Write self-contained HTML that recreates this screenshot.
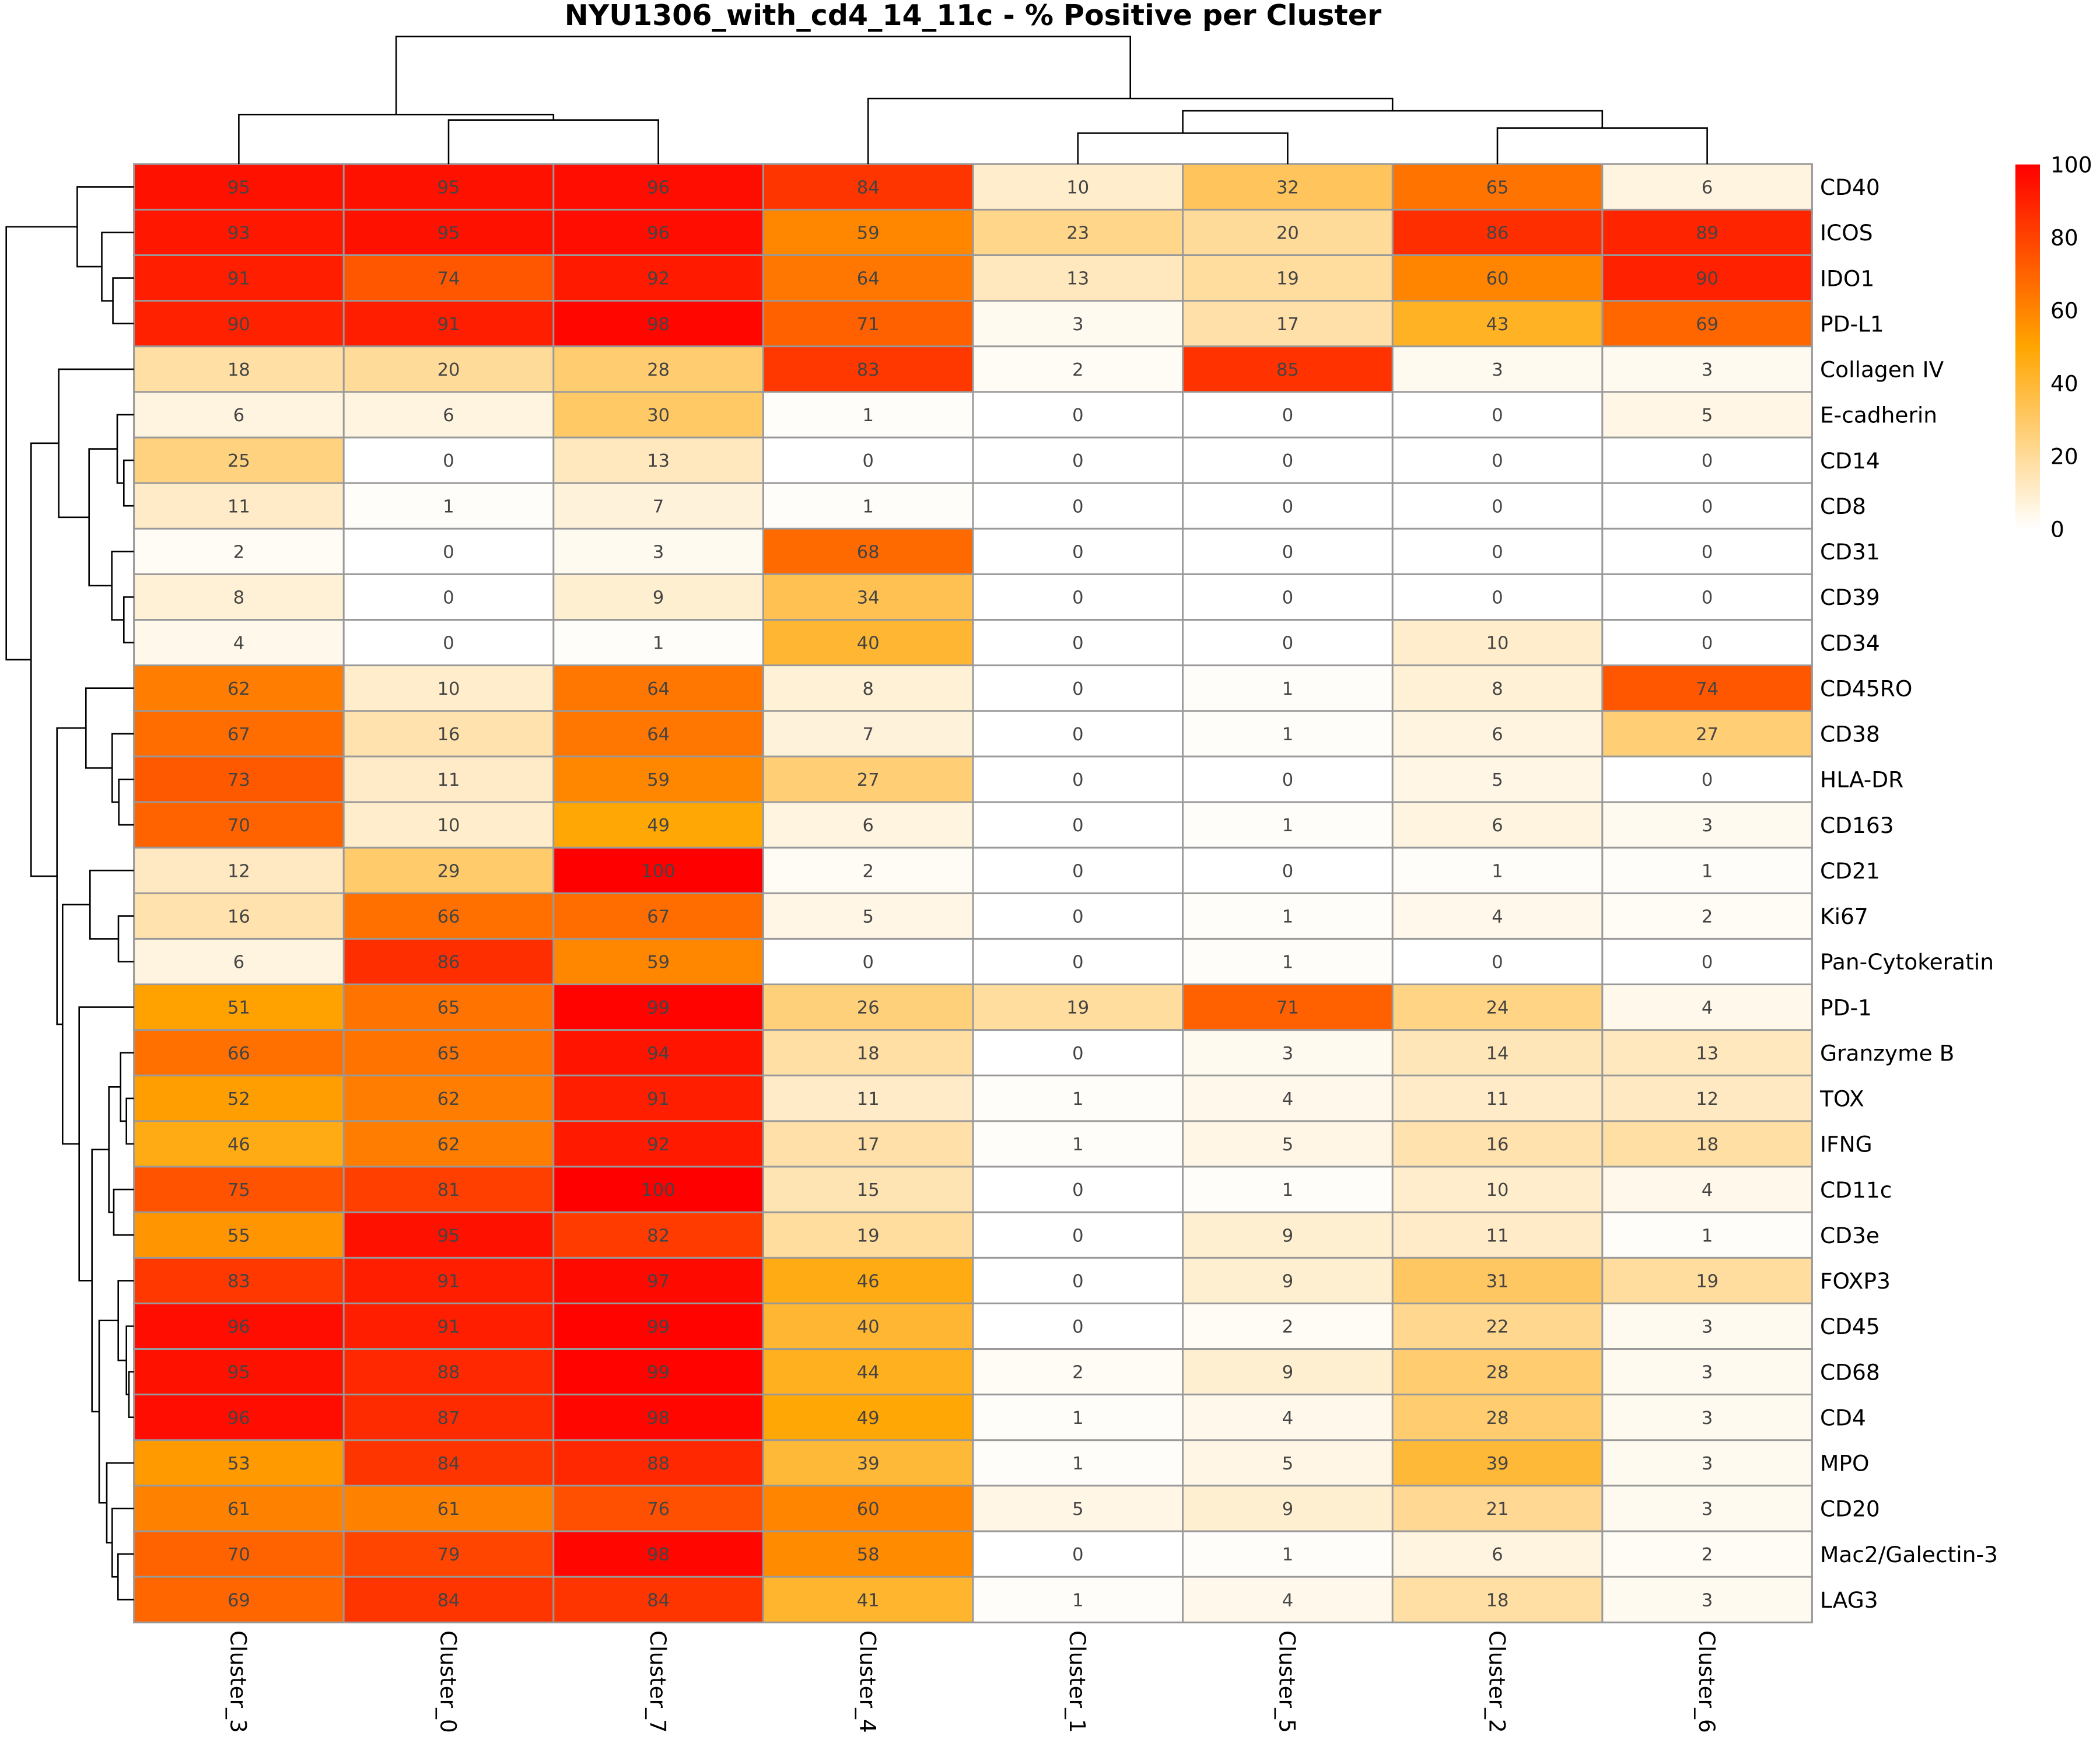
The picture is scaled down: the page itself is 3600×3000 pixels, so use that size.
<!DOCTYPE html>
<html><head><meta charset="utf-8">
<style>
html,body{margin:0;padding:0;background:#fff;}
svg{display:block;}
.r text{font-family:"DejaVu Sans","Liberation Sans",sans-serif;}
.n{font-size:30.5px;fill:#444;text-anchor:middle;}
.lb{font-size:37.5px;fill:#000;}
.d path{fill:none;stroke:#000;stroke-width:2.6;}
</style></head>
<body>
<svg width="3600" height="3000" viewBox="0 0 3600 3000" xmlns="http://www.w3.org/2000/svg">
<defs>
<linearGradient id="cb" x1="0" y1="1" x2="0" y2="0">
<stop offset="0" stop-color="#ffffff"/>
<stop offset="0.5" stop-color="#ffa500"/>
<stop offset="1" stop-color="#ff0000"/>
</linearGradient>
</defs>
<rect width="3600" height="3000" fill="#fff"/>
<text x="1668" y="43" font-family="DejaVu Sans, Liberation Sans, sans-serif" font-weight="bold" font-size="49" text-anchor="middle" fill="#000">NYU1306_with_cd4_14_11c - % Positive per Cluster</text>

<!-- heatmap rows -->
<g class="r">
<g transform="translate(229.6,281.3)"><rect x="0" width="360" height="78.2" fill="rgb(255,17,0)"/><rect x="359.6" width="360" height="78.2" fill="rgb(255,17,0)"/><rect x="719.2" width="360" height="78.2" fill="rgb(255,13,0)"/><rect x="1078.8" width="360" height="78.2" fill="rgb(255,53,0)"/><rect x="1438.4" width="360" height="78.2" fill="rgb(255,237,204)"/><rect x="1798" width="360" height="78.2" fill="rgb(255,197,92)"/><rect x="2157.6" width="360" height="78.2" fill="rgb(255,116,0)"/><rect x="2517.2" width="360" height="78.2" fill="rgb(255,244,224)"/></g>
<g transform="translate(229.6,359.43)"><rect x="0" width="360" height="78.2" fill="rgb(255,23,0)"/><rect x="359.6" width="360" height="78.2" fill="rgb(255,17,0)"/><rect x="719.2" width="360" height="78.2" fill="rgb(255,13,0)"/><rect x="1078.8" width="360" height="78.2" fill="rgb(255,135,0)"/><rect x="1438.4" width="360" height="78.2" fill="rgb(255,214,138)"/><rect x="1798" width="360" height="78.2" fill="rgb(255,219,153)"/><rect x="2157.6" width="360" height="78.2" fill="rgb(255,46,0)"/><rect x="2517.2" width="360" height="78.2" fill="rgb(255,36,0)"/></g>
<g transform="translate(229.6,437.55)"><rect x="0" width="360" height="78.2" fill="rgb(255,30,0)"/><rect x="359.6" width="360" height="78.2" fill="rgb(255,86,0)"/><rect x="719.2" width="360" height="78.2" fill="rgb(255,26,0)"/><rect x="1078.8" width="360" height="78.2" fill="rgb(255,119,0)"/><rect x="1438.4" width="360" height="78.2" fill="rgb(255,232,189)"/><rect x="1798" width="360" height="78.2" fill="rgb(255,221,158)"/><rect x="2157.6" width="360" height="78.2" fill="rgb(255,132,0)"/><rect x="2517.2" width="360" height="78.2" fill="rgb(255,33,0)"/></g>
<g transform="translate(229.6,515.68)"><rect x="0" width="360" height="78.2" fill="rgb(255,33,0)"/><rect x="359.6" width="360" height="78.2" fill="rgb(255,30,0)"/><rect x="719.2" width="360" height="78.2" fill="rgb(255,7,0)"/><rect x="1078.8" width="360" height="78.2" fill="rgb(255,96,0)"/><rect x="1438.4" width="360" height="78.2" fill="rgb(255,250,240)"/><rect x="1798" width="360" height="78.2" fill="rgb(255,224,168)"/><rect x="2157.6" width="360" height="78.2" fill="rgb(255,178,36)"/><rect x="2517.2" width="360" height="78.2" fill="rgb(255,102,0)"/></g>
<g transform="translate(229.6,593.8)"><rect x="0" width="360" height="78.2" fill="rgb(255,223,163)"/><rect x="359.6" width="360" height="78.2" fill="rgb(255,219,153)"/><rect x="719.2" width="360" height="78.2" fill="rgb(255,205,112)"/><rect x="1078.8" width="360" height="78.2" fill="rgb(255,56,0)"/><rect x="1438.4" width="360" height="78.2" fill="rgb(255,251,245)"/><rect x="1798" width="360" height="78.2" fill="rgb(255,50,0)"/><rect x="2157.6" width="360" height="78.2" fill="rgb(255,250,240)"/><rect x="2517.2" width="360" height="78.2" fill="rgb(255,250,240)"/></g>
<g transform="translate(229.6,671.93)"><rect x="0" width="360" height="78.2" fill="rgb(255,244,224)"/><rect x="359.6" width="360" height="78.2" fill="rgb(255,244,224)"/><rect x="719.2" width="360" height="78.2" fill="rgb(255,201,102)"/><rect x="1078.8" width="360" height="78.2" fill="rgb(255,253,250)"/><rect x="1438.4" width="360" height="78.2" fill="#fff"/><rect x="1798" width="360" height="78.2" fill="#fff"/><rect x="2157.6" width="360" height="78.2" fill="#fff"/><rect x="2517.2" width="360" height="78.2" fill="rgb(255,246,230)"/></g>
<g transform="translate(229.6,750.05)"><rect x="0" width="360" height="78.2" fill="rgb(255,210,128)"/><rect x="359.6" width="360" height="78.2" fill="#fff"/><rect x="719.2" width="360" height="78.2" fill="rgb(255,232,189)"/><rect x="1078.8" width="360" height="78.2" fill="#fff"/><rect x="1438.4" width="360" height="78.2" fill="#fff"/><rect x="1798" width="360" height="78.2" fill="#fff"/><rect x="2157.6" width="360" height="78.2" fill="#fff"/><rect x="2517.2" width="360" height="78.2" fill="#fff"/></g>
<g transform="translate(229.6,828.18)"><rect x="0" width="360" height="78.2" fill="rgb(255,235,199)"/><rect x="359.6" width="360" height="78.2" fill="rgb(255,253,250)"/><rect x="719.2" width="360" height="78.2" fill="rgb(255,242,219)"/><rect x="1078.8" width="360" height="78.2" fill="rgb(255,253,250)"/><rect x="1438.4" width="360" height="78.2" fill="#fff"/><rect x="1798" width="360" height="78.2" fill="#fff"/><rect x="2157.6" width="360" height="78.2" fill="#fff"/><rect x="2517.2" width="360" height="78.2" fill="#fff"/></g>
<g transform="translate(229.6,906.3)"><rect x="0" width="360" height="78.2" fill="rgb(255,251,245)"/><rect x="359.6" width="360" height="78.2" fill="#fff"/><rect x="719.2" width="360" height="78.2" fill="rgb(255,250,240)"/><rect x="1078.8" width="360" height="78.2" fill="rgb(255,106,0)"/><rect x="1438.4" width="360" height="78.2" fill="#fff"/><rect x="1798" width="360" height="78.2" fill="#fff"/><rect x="2157.6" width="360" height="78.2" fill="#fff"/><rect x="2517.2" width="360" height="78.2" fill="#fff"/></g>
<g transform="translate(229.6,984.43)"><rect x="0" width="360" height="78.2" fill="rgb(255,241,214)"/><rect x="359.6" width="360" height="78.2" fill="#fff"/><rect x="719.2" width="360" height="78.2" fill="rgb(255,239,209)"/><rect x="1078.8" width="360" height="78.2" fill="rgb(255,194,82)"/><rect x="1438.4" width="360" height="78.2" fill="#fff"/><rect x="1798" width="360" height="78.2" fill="#fff"/><rect x="2157.6" width="360" height="78.2" fill="#fff"/><rect x="2517.2" width="360" height="78.2" fill="#fff"/></g>
<g transform="translate(229.6,1062.55)"><rect x="0" width="360" height="78.2" fill="rgb(255,248,235)"/><rect x="359.6" width="360" height="78.2" fill="#fff"/><rect x="719.2" width="360" height="78.2" fill="rgb(255,253,250)"/><rect x="1078.8" width="360" height="78.2" fill="rgb(255,183,51)"/><rect x="1438.4" width="360" height="78.2" fill="#fff"/><rect x="1798" width="360" height="78.2" fill="#fff"/><rect x="2157.6" width="360" height="78.2" fill="rgb(255,237,204)"/><rect x="2517.2" width="360" height="78.2" fill="#fff"/></g>
<g transform="translate(229.6,1140.68)"><rect x="0" width="360" height="78.2" fill="rgb(255,125,0)"/><rect x="359.6" width="360" height="78.2" fill="rgb(255,237,204)"/><rect x="719.2" width="360" height="78.2" fill="rgb(255,119,0)"/><rect x="1078.8" width="360" height="78.2" fill="rgb(255,241,214)"/><rect x="1438.4" width="360" height="78.2" fill="#fff"/><rect x="1798" width="360" height="78.2" fill="rgb(255,253,250)"/><rect x="2157.6" width="360" height="78.2" fill="rgb(255,241,214)"/><rect x="2517.2" width="360" height="78.2" fill="rgb(255,86,0)"/></g>
<g transform="translate(229.6,1218.8)"><rect x="0" width="360" height="78.2" fill="rgb(255,109,0)"/><rect x="359.6" width="360" height="78.2" fill="rgb(255,226,173)"/><rect x="719.2" width="360" height="78.2" fill="rgb(255,119,0)"/><rect x="1078.8" width="360" height="78.2" fill="rgb(255,242,219)"/><rect x="1438.4" width="360" height="78.2" fill="#fff"/><rect x="1798" width="360" height="78.2" fill="rgb(255,253,250)"/><rect x="2157.6" width="360" height="78.2" fill="rgb(255,244,224)"/><rect x="2517.2" width="360" height="78.2" fill="rgb(255,206,117)"/></g>
<g transform="translate(229.6,1296.93)"><rect x="0" width="360" height="78.2" fill="rgb(255,89,0)"/><rect x="359.6" width="360" height="78.2" fill="rgb(255,235,199)"/><rect x="719.2" width="360" height="78.2" fill="rgb(255,135,0)"/><rect x="1078.8" width="360" height="78.2" fill="rgb(255,206,117)"/><rect x="1438.4" width="360" height="78.2" fill="#fff"/><rect x="1798" width="360" height="78.2" fill="#fff"/><rect x="2157.6" width="360" height="78.2" fill="rgb(255,246,230)"/><rect x="2517.2" width="360" height="78.2" fill="#fff"/></g>
<g transform="translate(229.6,1375.05)"><rect x="0" width="360" height="78.2" fill="rgb(255,99,0)"/><rect x="359.6" width="360" height="78.2" fill="rgb(255,237,204)"/><rect x="719.2" width="360" height="78.2" fill="rgb(255,167,5)"/><rect x="1078.8" width="360" height="78.2" fill="rgb(255,244,224)"/><rect x="1438.4" width="360" height="78.2" fill="#fff"/><rect x="1798" width="360" height="78.2" fill="rgb(255,253,250)"/><rect x="2157.6" width="360" height="78.2" fill="rgb(255,244,224)"/><rect x="2517.2" width="360" height="78.2" fill="rgb(255,250,240)"/></g>
<g transform="translate(229.6,1453.18)"><rect x="0" width="360" height="78.2" fill="rgb(255,233,194)"/><rect x="359.6" width="360" height="78.2" fill="rgb(255,203,107)"/><rect x="719.2" width="360" height="78.2" fill="rgb(255,0,0)"/><rect x="1078.8" width="360" height="78.2" fill="rgb(255,251,245)"/><rect x="1438.4" width="360" height="78.2" fill="#fff"/><rect x="1798" width="360" height="78.2" fill="#fff"/><rect x="2157.6" width="360" height="78.2" fill="rgb(255,253,250)"/><rect x="2517.2" width="360" height="78.2" fill="rgb(255,253,250)"/></g>
<g transform="translate(229.6,1531.3)"><rect x="0" width="360" height="78.2" fill="rgb(255,226,173)"/><rect x="359.6" width="360" height="78.2" fill="rgb(255,112,0)"/><rect x="719.2" width="360" height="78.2" fill="rgb(255,109,0)"/><rect x="1078.8" width="360" height="78.2" fill="rgb(255,246,230)"/><rect x="1438.4" width="360" height="78.2" fill="#fff"/><rect x="1798" width="360" height="78.2" fill="rgb(255,253,250)"/><rect x="2157.6" width="360" height="78.2" fill="rgb(255,248,235)"/><rect x="2517.2" width="360" height="78.2" fill="rgb(255,251,245)"/></g>
<g transform="translate(229.6,1609.43)"><rect x="0" width="360" height="78.2" fill="rgb(255,244,224)"/><rect x="359.6" width="360" height="78.2" fill="rgb(255,46,0)"/><rect x="719.2" width="360" height="78.2" fill="rgb(255,135,0)"/><rect x="1078.8" width="360" height="78.2" fill="#fff"/><rect x="1438.4" width="360" height="78.2" fill="#fff"/><rect x="1798" width="360" height="78.2" fill="rgb(255,253,250)"/><rect x="2157.6" width="360" height="78.2" fill="#fff"/><rect x="2517.2" width="360" height="78.2" fill="#fff"/></g>
<g transform="translate(229.6,1687.55)"><rect x="0" width="360" height="78.2" fill="rgb(255,162,0)"/><rect x="359.6" width="360" height="78.2" fill="rgb(255,116,0)"/><rect x="719.2" width="360" height="78.2" fill="rgb(255,3,0)"/><rect x="1078.8" width="360" height="78.2" fill="rgb(255,208,122)"/><rect x="1438.4" width="360" height="78.2" fill="rgb(255,221,158)"/><rect x="1798" width="360" height="78.2" fill="rgb(255,96,0)"/><rect x="2157.6" width="360" height="78.2" fill="rgb(255,212,133)"/><rect x="2517.2" width="360" height="78.2" fill="rgb(255,248,235)"/></g>
<g transform="translate(229.6,1765.68)"><rect x="0" width="360" height="78.2" fill="rgb(255,112,0)"/><rect x="359.6" width="360" height="78.2" fill="rgb(255,116,0)"/><rect x="719.2" width="360" height="78.2" fill="rgb(255,20,0)"/><rect x="1078.8" width="360" height="78.2" fill="rgb(255,223,163)"/><rect x="1438.4" width="360" height="78.2" fill="#fff"/><rect x="1798" width="360" height="78.2" fill="rgb(255,250,240)"/><rect x="2157.6" width="360" height="78.2" fill="rgb(255,230,184)"/><rect x="2517.2" width="360" height="78.2" fill="rgb(255,232,189)"/></g>
<g transform="translate(229.6,1843.8)"><rect x="0" width="360" height="78.2" fill="rgb(255,158,0)"/><rect x="359.6" width="360" height="78.2" fill="rgb(255,125,0)"/><rect x="719.2" width="360" height="78.2" fill="rgb(255,30,0)"/><rect x="1078.8" width="360" height="78.2" fill="rgb(255,235,199)"/><rect x="1438.4" width="360" height="78.2" fill="rgb(255,253,250)"/><rect x="1798" width="360" height="78.2" fill="rgb(255,248,235)"/><rect x="2157.6" width="360" height="78.2" fill="rgb(255,235,199)"/><rect x="2517.2" width="360" height="78.2" fill="rgb(255,233,194)"/></g>
<g transform="translate(229.6,1921.93)"><rect x="0" width="360" height="78.2" fill="rgb(255,172,20)"/><rect x="359.6" width="360" height="78.2" fill="rgb(255,125,0)"/><rect x="719.2" width="360" height="78.2" fill="rgb(255,26,0)"/><rect x="1078.8" width="360" height="78.2" fill="rgb(255,224,168)"/><rect x="1438.4" width="360" height="78.2" fill="rgb(255,253,250)"/><rect x="1798" width="360" height="78.2" fill="rgb(255,246,230)"/><rect x="2157.6" width="360" height="78.2" fill="rgb(255,226,173)"/><rect x="2517.2" width="360" height="78.2" fill="rgb(255,223,163)"/></g>
<g transform="translate(229.6,2000.05)"><rect x="0" width="360" height="78.2" fill="rgb(255,83,0)"/><rect x="359.6" width="360" height="78.2" fill="rgb(255,63,0)"/><rect x="719.2" width="360" height="78.2" fill="rgb(255,0,0)"/><rect x="1078.8" width="360" height="78.2" fill="rgb(255,228,179)"/><rect x="1438.4" width="360" height="78.2" fill="#fff"/><rect x="1798" width="360" height="78.2" fill="rgb(255,253,250)"/><rect x="2157.6" width="360" height="78.2" fill="rgb(255,237,204)"/><rect x="2517.2" width="360" height="78.2" fill="rgb(255,248,235)"/></g>
<g transform="translate(229.6,2078.18)"><rect x="0" width="360" height="78.2" fill="rgb(255,149,0)"/><rect x="359.6" width="360" height="78.2" fill="rgb(255,17,0)"/><rect x="719.2" width="360" height="78.2" fill="rgb(255,59,0)"/><rect x="1078.8" width="360" height="78.2" fill="rgb(255,221,158)"/><rect x="1438.4" width="360" height="78.2" fill="#fff"/><rect x="1798" width="360" height="78.2" fill="rgb(255,239,209)"/><rect x="2157.6" width="360" height="78.2" fill="rgb(255,235,199)"/><rect x="2517.2" width="360" height="78.2" fill="rgb(255,253,250)"/></g>
<g transform="translate(229.6,2156.3)"><rect x="0" width="360" height="78.2" fill="rgb(255,56,0)"/><rect x="359.6" width="360" height="78.2" fill="rgb(255,30,0)"/><rect x="719.2" width="360" height="78.2" fill="rgb(255,10,0)"/><rect x="1078.8" width="360" height="78.2" fill="rgb(255,172,20)"/><rect x="1438.4" width="360" height="78.2" fill="#fff"/><rect x="1798" width="360" height="78.2" fill="rgb(255,239,209)"/><rect x="2157.6" width="360" height="78.2" fill="rgb(255,199,97)"/><rect x="2517.2" width="360" height="78.2" fill="rgb(255,221,158)"/></g>
<g transform="translate(229.6,2234.43)"><rect x="0" width="360" height="78.2" fill="rgb(255,13,0)"/><rect x="359.6" width="360" height="78.2" fill="rgb(255,30,0)"/><rect x="719.2" width="360" height="78.2" fill="rgb(255,3,0)"/><rect x="1078.8" width="360" height="78.2" fill="rgb(255,183,51)"/><rect x="1438.4" width="360" height="78.2" fill="#fff"/><rect x="1798" width="360" height="78.2" fill="rgb(255,251,245)"/><rect x="2157.6" width="360" height="78.2" fill="rgb(255,215,143)"/><rect x="2517.2" width="360" height="78.2" fill="rgb(255,250,240)"/></g>
<g transform="translate(229.6,2312.55)"><rect x="0" width="360" height="78.2" fill="rgb(255,17,0)"/><rect x="359.6" width="360" height="78.2" fill="rgb(255,40,0)"/><rect x="719.2" width="360" height="78.2" fill="rgb(255,3,0)"/><rect x="1078.8" width="360" height="78.2" fill="rgb(255,176,31)"/><rect x="1438.4" width="360" height="78.2" fill="rgb(255,251,245)"/><rect x="1798" width="360" height="78.2" fill="rgb(255,239,209)"/><rect x="2157.6" width="360" height="78.2" fill="rgb(255,205,112)"/><rect x="2517.2" width="360" height="78.2" fill="rgb(255,250,240)"/></g>
<g transform="translate(229.6,2390.68)"><rect x="0" width="360" height="78.2" fill="rgb(255,13,0)"/><rect x="359.6" width="360" height="78.2" fill="rgb(255,43,0)"/><rect x="719.2" width="360" height="78.2" fill="rgb(255,7,0)"/><rect x="1078.8" width="360" height="78.2" fill="rgb(255,167,5)"/><rect x="1438.4" width="360" height="78.2" fill="rgb(255,253,250)"/><rect x="1798" width="360" height="78.2" fill="rgb(255,248,235)"/><rect x="2157.6" width="360" height="78.2" fill="rgb(255,205,112)"/><rect x="2517.2" width="360" height="78.2" fill="rgb(255,250,240)"/></g>
<g transform="translate(229.6,2468.8)"><rect x="0" width="360" height="78.2" fill="rgb(255,155,0)"/><rect x="359.6" width="360" height="78.2" fill="rgb(255,53,0)"/><rect x="719.2" width="360" height="78.2" fill="rgb(255,40,0)"/><rect x="1078.8" width="360" height="78.2" fill="rgb(255,185,56)"/><rect x="1438.4" width="360" height="78.2" fill="rgb(255,253,250)"/><rect x="1798" width="360" height="78.2" fill="rgb(255,246,230)"/><rect x="2157.6" width="360" height="78.2" fill="rgb(255,185,56)"/><rect x="2517.2" width="360" height="78.2" fill="rgb(255,250,240)"/></g>
<g transform="translate(229.6,2546.93)"><rect x="0" width="360" height="78.2" fill="rgb(255,129,0)"/><rect x="359.6" width="360" height="78.2" fill="rgb(255,129,0)"/><rect x="719.2" width="360" height="78.2" fill="rgb(255,79,0)"/><rect x="1078.8" width="360" height="78.2" fill="rgb(255,132,0)"/><rect x="1438.4" width="360" height="78.2" fill="rgb(255,246,230)"/><rect x="1798" width="360" height="78.2" fill="rgb(255,239,209)"/><rect x="2157.6" width="360" height="78.2" fill="rgb(255,217,148)"/><rect x="2517.2" width="360" height="78.2" fill="rgb(255,250,240)"/></g>
<g transform="translate(229.6,2625.05)"><rect x="0" width="360" height="78.2" fill="rgb(255,99,0)"/><rect x="359.6" width="360" height="78.2" fill="rgb(255,69,0)"/><rect x="719.2" width="360" height="78.2" fill="rgb(255,7,0)"/><rect x="1078.8" width="360" height="78.2" fill="rgb(255,139,0)"/><rect x="1438.4" width="360" height="78.2" fill="#fff"/><rect x="1798" width="360" height="78.2" fill="rgb(255,253,250)"/><rect x="2157.6" width="360" height="78.2" fill="rgb(255,244,224)"/><rect x="2517.2" width="360" height="78.2" fill="rgb(255,251,245)"/></g>
<g transform="translate(229.6,2703.18)"><rect x="0" width="360" height="78.2" fill="rgb(255,102,0)"/><rect x="359.6" width="360" height="78.2" fill="rgb(255,53,0)"/><rect x="719.2" width="360" height="78.2" fill="rgb(255,53,0)"/><rect x="1078.8" width="360" height="78.2" fill="rgb(255,181,46)"/><rect x="1438.4" width="360" height="78.2" fill="rgb(255,253,250)"/><rect x="1798" width="360" height="78.2" fill="rgb(255,248,235)"/><rect x="2157.6" width="360" height="78.2" fill="rgb(255,223,163)"/><rect x="2517.2" width="360" height="78.2" fill="rgb(255,250,240)"/></g>
</g>

<!-- grid lines -->
<g stroke="#999" stroke-width="3">
<path d="M229.6,281.3V2781.3M589.2,281.3V2781.3M948.8,281.3V2781.3M1308.4,281.3V2781.3M1668,281.3V2781.3M2027.6,281.3V2781.3M2387.2,281.3V2781.3M2746.8,281.3V2781.3M3106.4,281.3V2781.3"/>
<path d="M228.1,281.3H3107.9M228.1,359.43H3107.9M228.1,437.55H3107.9M228.1,515.68H3107.9M228.1,593.8H3107.9M228.1,671.93H3107.9M228.1,750.05H3107.9M228.1,828.18H3107.9M228.1,906.3H3107.9M228.1,984.43H3107.9M228.1,1062.55H3107.9M228.1,1140.68H3107.9M228.1,1218.8H3107.9M228.1,1296.93H3107.9M228.1,1375.05H3107.9M228.1,1453.18H3107.9M228.1,1531.3H3107.9M228.1,1609.43H3107.9M228.1,1687.55H3107.9M228.1,1765.68H3107.9M228.1,1843.8H3107.9M228.1,1921.93H3107.9M228.1,2000.05H3107.9M228.1,2078.18H3107.9M228.1,2156.3H3107.9M228.1,2234.43H3107.9M228.1,2312.55H3107.9M228.1,2390.68H3107.9M228.1,2468.8H3107.9M228.1,2546.93H3107.9M228.1,2625.05H3107.9M228.1,2703.18H3107.9M228.1,2781.3H3107.9"/>
</g>

<!-- numbers and row labels -->
<g class="r">
<g transform="translate(229.6,281.3)"><g class="n"><text x="179.8" y="50.2">95</text><text x="539.4" y="50.2">95</text><text x="899" y="50.2">96</text><text x="1258.6" y="50.2">84</text><text x="1618.2" y="50.2">10</text><text x="1977.8" y="50.2">32</text><text x="2337.4" y="50.2">65</text><text x="2697" y="50.2">6</text></g><text class="lb" x="2890.4" y="52.8">CD40</text></g>
<g transform="translate(229.6,359.43)"><g class="n"><text x="179.8" y="50.2">93</text><text x="539.4" y="50.2">95</text><text x="899" y="50.2">96</text><text x="1258.6" y="50.2">59</text><text x="1618.2" y="50.2">23</text><text x="1977.8" y="50.2">20</text><text x="2337.4" y="50.2">86</text><text x="2697" y="50.2">89</text></g><text class="lb" x="2890.4" y="52.8">ICOS</text></g>
<g transform="translate(229.6,437.55)"><g class="n"><text x="179.8" y="50.2">91</text><text x="539.4" y="50.2">74</text><text x="899" y="50.2">92</text><text x="1258.6" y="50.2">64</text><text x="1618.2" y="50.2">13</text><text x="1977.8" y="50.2">19</text><text x="2337.4" y="50.2">60</text><text x="2697" y="50.2">90</text></g><text class="lb" x="2890.4" y="52.8">IDO1</text></g>
<g transform="translate(229.6,515.68)"><g class="n"><text x="179.8" y="50.2">90</text><text x="539.4" y="50.2">91</text><text x="899" y="50.2">98</text><text x="1258.6" y="50.2">71</text><text x="1618.2" y="50.2">3</text><text x="1977.8" y="50.2">17</text><text x="2337.4" y="50.2">43</text><text x="2697" y="50.2">69</text></g><text class="lb" x="2890.4" y="52.8">PD-L1</text></g>
<g transform="translate(229.6,593.8)"><g class="n"><text x="179.8" y="50.2">18</text><text x="539.4" y="50.2">20</text><text x="899" y="50.2">28</text><text x="1258.6" y="50.2">83</text><text x="1618.2" y="50.2">2</text><text x="1977.8" y="50.2">85</text><text x="2337.4" y="50.2">3</text><text x="2697" y="50.2">3</text></g><text class="lb" x="2890.4" y="52.8">Collagen IV</text></g>
<g transform="translate(229.6,671.93)"><g class="n"><text x="179.8" y="50.2">6</text><text x="539.4" y="50.2">6</text><text x="899" y="50.2">30</text><text x="1258.6" y="50.2">1</text><text x="1618.2" y="50.2">0</text><text x="1977.8" y="50.2">0</text><text x="2337.4" y="50.2">0</text><text x="2697" y="50.2">5</text></g><text class="lb" x="2890.4" y="52.8">E-cadherin</text></g>
<g transform="translate(229.6,750.05)"><g class="n"><text x="179.8" y="50.2">25</text><text x="539.4" y="50.2">0</text><text x="899" y="50.2">13</text><text x="1258.6" y="50.2">0</text><text x="1618.2" y="50.2">0</text><text x="1977.8" y="50.2">0</text><text x="2337.4" y="50.2">0</text><text x="2697" y="50.2">0</text></g><text class="lb" x="2890.4" y="52.8">CD14</text></g>
<g transform="translate(229.6,828.18)"><g class="n"><text x="179.8" y="50.2">11</text><text x="539.4" y="50.2">1</text><text x="899" y="50.2">7</text><text x="1258.6" y="50.2">1</text><text x="1618.2" y="50.2">0</text><text x="1977.8" y="50.2">0</text><text x="2337.4" y="50.2">0</text><text x="2697" y="50.2">0</text></g><text class="lb" x="2890.4" y="52.8">CD8</text></g>
<g transform="translate(229.6,906.3)"><g class="n"><text x="179.8" y="50.2">2</text><text x="539.4" y="50.2">0</text><text x="899" y="50.2">3</text><text x="1258.6" y="50.2">68</text><text x="1618.2" y="50.2">0</text><text x="1977.8" y="50.2">0</text><text x="2337.4" y="50.2">0</text><text x="2697" y="50.2">0</text></g><text class="lb" x="2890.4" y="52.8">CD31</text></g>
<g transform="translate(229.6,984.43)"><g class="n"><text x="179.8" y="50.2">8</text><text x="539.4" y="50.2">0</text><text x="899" y="50.2">9</text><text x="1258.6" y="50.2">34</text><text x="1618.2" y="50.2">0</text><text x="1977.8" y="50.2">0</text><text x="2337.4" y="50.2">0</text><text x="2697" y="50.2">0</text></g><text class="lb" x="2890.4" y="52.8">CD39</text></g>
<g transform="translate(229.6,1062.55)"><g class="n"><text x="179.8" y="50.2">4</text><text x="539.4" y="50.2">0</text><text x="899" y="50.2">1</text><text x="1258.6" y="50.2">40</text><text x="1618.2" y="50.2">0</text><text x="1977.8" y="50.2">0</text><text x="2337.4" y="50.2">10</text><text x="2697" y="50.2">0</text></g><text class="lb" x="2890.4" y="52.8">CD34</text></g>
<g transform="translate(229.6,1140.68)"><g class="n"><text x="179.8" y="50.2">62</text><text x="539.4" y="50.2">10</text><text x="899" y="50.2">64</text><text x="1258.6" y="50.2">8</text><text x="1618.2" y="50.2">0</text><text x="1977.8" y="50.2">1</text><text x="2337.4" y="50.2">8</text><text x="2697" y="50.2">74</text></g><text class="lb" x="2890.4" y="52.8">CD45RO</text></g>
<g transform="translate(229.6,1218.8)"><g class="n"><text x="179.8" y="50.2">67</text><text x="539.4" y="50.2">16</text><text x="899" y="50.2">64</text><text x="1258.6" y="50.2">7</text><text x="1618.2" y="50.2">0</text><text x="1977.8" y="50.2">1</text><text x="2337.4" y="50.2">6</text><text x="2697" y="50.2">27</text></g><text class="lb" x="2890.4" y="52.8">CD38</text></g>
<g transform="translate(229.6,1296.93)"><g class="n"><text x="179.8" y="50.2">73</text><text x="539.4" y="50.2">11</text><text x="899" y="50.2">59</text><text x="1258.6" y="50.2">27</text><text x="1618.2" y="50.2">0</text><text x="1977.8" y="50.2">0</text><text x="2337.4" y="50.2">5</text><text x="2697" y="50.2">0</text></g><text class="lb" x="2890.4" y="52.8">HLA-DR</text></g>
<g transform="translate(229.6,1375.05)"><g class="n"><text x="179.8" y="50.2">70</text><text x="539.4" y="50.2">10</text><text x="899" y="50.2">49</text><text x="1258.6" y="50.2">6</text><text x="1618.2" y="50.2">0</text><text x="1977.8" y="50.2">1</text><text x="2337.4" y="50.2">6</text><text x="2697" y="50.2">3</text></g><text class="lb" x="2890.4" y="52.8">CD163</text></g>
<g transform="translate(229.6,1453.18)"><g class="n"><text x="179.8" y="50.2">12</text><text x="539.4" y="50.2">29</text><text x="899" y="50.2">100</text><text x="1258.6" y="50.2">2</text><text x="1618.2" y="50.2">0</text><text x="1977.8" y="50.2">0</text><text x="2337.4" y="50.2">1</text><text x="2697" y="50.2">1</text></g><text class="lb" x="2890.4" y="52.8">CD21</text></g>
<g transform="translate(229.6,1531.3)"><g class="n"><text x="179.8" y="50.2">16</text><text x="539.4" y="50.2">66</text><text x="899" y="50.2">67</text><text x="1258.6" y="50.2">5</text><text x="1618.2" y="50.2">0</text><text x="1977.8" y="50.2">1</text><text x="2337.4" y="50.2">4</text><text x="2697" y="50.2">2</text></g><text class="lb" x="2890.4" y="52.8">Ki67</text></g>
<g transform="translate(229.6,1609.43)"><g class="n"><text x="179.8" y="50.2">6</text><text x="539.4" y="50.2">86</text><text x="899" y="50.2">59</text><text x="1258.6" y="50.2">0</text><text x="1618.2" y="50.2">0</text><text x="1977.8" y="50.2">1</text><text x="2337.4" y="50.2">0</text><text x="2697" y="50.2">0</text></g><text class="lb" x="2890.4" y="52.8">Pan-Cytokeratin</text></g>
<g transform="translate(229.6,1687.55)"><g class="n"><text x="179.8" y="50.2">51</text><text x="539.4" y="50.2">65</text><text x="899" y="50.2">99</text><text x="1258.6" y="50.2">26</text><text x="1618.2" y="50.2">19</text><text x="1977.8" y="50.2">71</text><text x="2337.4" y="50.2">24</text><text x="2697" y="50.2">4</text></g><text class="lb" x="2890.4" y="52.8">PD-1</text></g>
<g transform="translate(229.6,1765.68)"><g class="n"><text x="179.8" y="50.2">66</text><text x="539.4" y="50.2">65</text><text x="899" y="50.2">94</text><text x="1258.6" y="50.2">18</text><text x="1618.2" y="50.2">0</text><text x="1977.8" y="50.2">3</text><text x="2337.4" y="50.2">14</text><text x="2697" y="50.2">13</text></g><text class="lb" x="2890.4" y="52.8">Granzyme B</text></g>
<g transform="translate(229.6,1843.8)"><g class="n"><text x="179.8" y="50.2">52</text><text x="539.4" y="50.2">62</text><text x="899" y="50.2">91</text><text x="1258.6" y="50.2">11</text><text x="1618.2" y="50.2">1</text><text x="1977.8" y="50.2">4</text><text x="2337.4" y="50.2">11</text><text x="2697" y="50.2">12</text></g><text class="lb" x="2890.4" y="52.8">TOX</text></g>
<g transform="translate(229.6,1921.93)"><g class="n"><text x="179.8" y="50.2">46</text><text x="539.4" y="50.2">62</text><text x="899" y="50.2">92</text><text x="1258.6" y="50.2">17</text><text x="1618.2" y="50.2">1</text><text x="1977.8" y="50.2">5</text><text x="2337.4" y="50.2">16</text><text x="2697" y="50.2">18</text></g><text class="lb" x="2890.4" y="52.8">IFNG</text></g>
<g transform="translate(229.6,2000.05)"><g class="n"><text x="179.8" y="50.2">75</text><text x="539.4" y="50.2">81</text><text x="899" y="50.2">100</text><text x="1258.6" y="50.2">15</text><text x="1618.2" y="50.2">0</text><text x="1977.8" y="50.2">1</text><text x="2337.4" y="50.2">10</text><text x="2697" y="50.2">4</text></g><text class="lb" x="2890.4" y="52.8">CD11c</text></g>
<g transform="translate(229.6,2078.18)"><g class="n"><text x="179.8" y="50.2">55</text><text x="539.4" y="50.2">95</text><text x="899" y="50.2">82</text><text x="1258.6" y="50.2">19</text><text x="1618.2" y="50.2">0</text><text x="1977.8" y="50.2">9</text><text x="2337.4" y="50.2">11</text><text x="2697" y="50.2">1</text></g><text class="lb" x="2890.4" y="52.8">CD3e</text></g>
<g transform="translate(229.6,2156.3)"><g class="n"><text x="179.8" y="50.2">83</text><text x="539.4" y="50.2">91</text><text x="899" y="50.2">97</text><text x="1258.6" y="50.2">46</text><text x="1618.2" y="50.2">0</text><text x="1977.8" y="50.2">9</text><text x="2337.4" y="50.2">31</text><text x="2697" y="50.2">19</text></g><text class="lb" x="2890.4" y="52.8">FOXP3</text></g>
<g transform="translate(229.6,2234.43)"><g class="n"><text x="179.8" y="50.2">96</text><text x="539.4" y="50.2">91</text><text x="899" y="50.2">99</text><text x="1258.6" y="50.2">40</text><text x="1618.2" y="50.2">0</text><text x="1977.8" y="50.2">2</text><text x="2337.4" y="50.2">22</text><text x="2697" y="50.2">3</text></g><text class="lb" x="2890.4" y="52.8">CD45</text></g>
<g transform="translate(229.6,2312.55)"><g class="n"><text x="179.8" y="50.2">95</text><text x="539.4" y="50.2">88</text><text x="899" y="50.2">99</text><text x="1258.6" y="50.2">44</text><text x="1618.2" y="50.2">2</text><text x="1977.8" y="50.2">9</text><text x="2337.4" y="50.2">28</text><text x="2697" y="50.2">3</text></g><text class="lb" x="2890.4" y="52.8">CD68</text></g>
<g transform="translate(229.6,2390.68)"><g class="n"><text x="179.8" y="50.2">96</text><text x="539.4" y="50.2">87</text><text x="899" y="50.2">98</text><text x="1258.6" y="50.2">49</text><text x="1618.2" y="50.2">1</text><text x="1977.8" y="50.2">4</text><text x="2337.4" y="50.2">28</text><text x="2697" y="50.2">3</text></g><text class="lb" x="2890.4" y="52.8">CD4</text></g>
<g transform="translate(229.6,2468.8)"><g class="n"><text x="179.8" y="50.2">53</text><text x="539.4" y="50.2">84</text><text x="899" y="50.2">88</text><text x="1258.6" y="50.2">39</text><text x="1618.2" y="50.2">1</text><text x="1977.8" y="50.2">5</text><text x="2337.4" y="50.2">39</text><text x="2697" y="50.2">3</text></g><text class="lb" x="2890.4" y="52.8">MPO</text></g>
<g transform="translate(229.6,2546.93)"><g class="n"><text x="179.8" y="50.2">61</text><text x="539.4" y="50.2">61</text><text x="899" y="50.2">76</text><text x="1258.6" y="50.2">60</text><text x="1618.2" y="50.2">5</text><text x="1977.8" y="50.2">9</text><text x="2337.4" y="50.2">21</text><text x="2697" y="50.2">3</text></g><text class="lb" x="2890.4" y="52.8">CD20</text></g>
<g transform="translate(229.6,2625.05)"><g class="n"><text x="179.8" y="50.2">70</text><text x="539.4" y="50.2">79</text><text x="899" y="50.2">98</text><text x="1258.6" y="50.2">58</text><text x="1618.2" y="50.2">0</text><text x="1977.8" y="50.2">1</text><text x="2337.4" y="50.2">6</text><text x="2697" y="50.2">2</text></g><text class="lb" x="2890.4" y="52.8">Mac2/Galectin-3</text></g>
<g transform="translate(229.6,2703.18)"><g class="n"><text x="179.8" y="50.2">69</text><text x="539.4" y="50.2">84</text><text x="899" y="50.2">84</text><text x="1258.6" y="50.2">41</text><text x="1618.2" y="50.2">1</text><text x="1977.8" y="50.2">4</text><text x="2337.4" y="50.2">18</text><text x="2697" y="50.2">3</text></g><text class="lb" x="2890.4" y="52.8">LAG3</text></g>
</g>

<!-- column labels -->
<g class="r">
<text class="lb" transform="translate(395.7,2795) rotate(90)">Cluster_3</text>
<text class="lb" transform="translate(755.3,2795) rotate(90)">Cluster_0</text>
<text class="lb" transform="translate(1114.9,2795) rotate(90)">Cluster_7</text>
<text class="lb" transform="translate(1474.5,2795) rotate(90)">Cluster_4</text>
<text class="lb" transform="translate(1834.1,2795) rotate(90)">Cluster_1</text>
<text class="lb" transform="translate(2193.7,2795) rotate(90)">Cluster_5</text>
<text class="lb" transform="translate(2553.3,2795) rotate(90)">Cluster_2</text>
<text class="lb" transform="translate(2912.9,2795) rotate(90)">Cluster_6</text>
</g>

<!-- top dendrogram -->
<g class="d">
<path d="M769,281.3V205.7H1128.6V281.3"/>
<path d="M409.4,281.3V196.3H948.8V205.7"/>
<path d="M1847.8,281.3V228.3H2207.4V281.3"/>
<path d="M2567,281.3V219.6H2926.6V281.3"/>
<path d="M2027.6,228.3V190H2746.8V219.6"/>
<path d="M1488.2,281.3V169H2387.2V190"/>
<path d="M679.1,196.3V62.7H1937.7V169"/>
</g>

<!-- left dendrogram -->
<g class="d">
<path d="M229.6,476.6H193.6V554.7H229.6"/>
<path d="M229.6,398.5H174.5V515.65H193.6"/>
<path d="M229.6,320.4H132.4V457.1H174.5"/>
<path d="M229.6,789.1H212.3V867.2H229.6"/>
<path d="M229.6,711H201V828.15H212.3"/>
<path d="M229.6,1023.5H212.3V1101.6H229.6"/>
<path d="M229.6,945.4H191.7V1062.55H212.3"/>
<path d="M201,769.6H152.7V1004H191.7"/>
<path d="M229.6,632.9H100.7V886.8H152.7"/>
<path d="M229.6,1336H203.7V1414.1H229.6"/>
<path d="M229.6,1257.9H192.3V1375.05H203.7"/>
<path d="M229.6,1179.7H147.3V1316.5H192.3"/>
<path d="M229.6,1570.4H203V1648.5H229.6"/>
<path d="M229.6,1492.2H154.3V1609.45H203"/>
<path d="M229.6,1882.9H216.7V1961H229.6"/>
<path d="M229.6,1804.7H206.7V1921.95H216.7"/>
<path d="M229.6,2039.1H195V2117.2H229.6"/>
<path d="M206.7,1863.3H186.7V2078.15H195"/>
<path d="M229.6,2351.6H221V2429.7H229.6"/>
<path d="M229.6,2273.5H216.7V2390.65H221"/>
<path d="M229.6,2195.4H202.7V2332.1H216.7"/>
<path d="M229.6,2664.1H202.3V2742.2H229.6"/>
<path d="M229.6,2586H192.3V2703.15H202.3"/>
<path d="M229.6,2507.9H183V2644.6H192.3"/>
<path d="M202.7,2263.75H170V2576.25H183"/>
<path d="M186.7,1970.7H157.7V2420H170"/>
<path d="M229.6,1726.6H135.7V2195.35H157.7"/>
<path d="M154.3,1550.8H107.3V1961H135.7"/>
<path d="M147.3,1248.1H97.7V1755.9H107.3"/>
<path d="M100.7,759.85H53.3V1502H97.7"/>
<path d="M132.4,388.75H10.7V1130.9H53.3"/>
</g>

<!-- colorbar -->
<rect x="3455" y="282" width="42" height="625" fill="url(#cb)"/>
<g class="r">
<text class="lb" x="3515" y="295.7">100</text>
<text class="lb" x="3515" y="420.7">80</text>
<text class="lb" x="3515" y="545.7">60</text>
<text class="lb" x="3515" y="670.7">40</text>
<text class="lb" x="3515" y="795.7">20</text>
<text class="lb" x="3515" y="920.7">0</text>
</g>
</svg>
</body></html>
